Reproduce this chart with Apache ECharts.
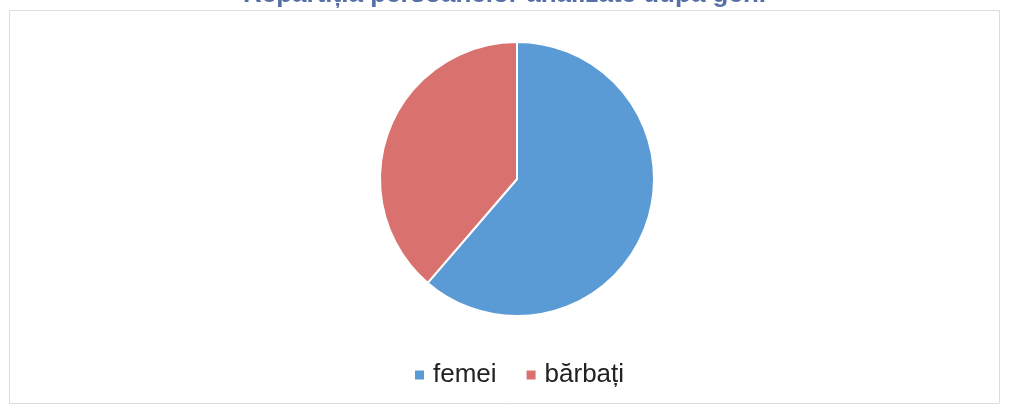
<!DOCTYPE html>
<html><head><meta charset="utf-8">
<script src="https://cdn.jsdelivr.net/npm/echarts@6/dist/echarts.min.js"></script>
<style>html,body{margin:0;padding:0;background:#fff}#c{width:1009px;height:410px}</style>
</head><body><div id="c"></div>
<script>
const titleText = 'Repartiția persoanelor analizate după gen.';
const categories = ['femei', 'bărbați'];
const values = [61.3, 38.7];
const colors = ['#5B9BD5', '#D9716F'];

const chart = echarts.init(document.getElementById('c'), null, {renderer: 'canvas'});
chart.setOption({
  backgroundColor: '#ffffff',
  animation: false,
  title: {
    text: titleText,
    left: 'center',
    top: -23,
    textStyle: {color: '#5670A6', fontSize: 26, fontWeight: 'bold', fontFamily: 'Liberation Sans'}
  },
  graphic: [{
    type: 'rect', shape: {x: 9.5, y: 10.5, width: 990, height: 393},
    style: {fill: 'none', stroke: '#dcdcdc', lineWidth: 1}, z: -1
  }],
  legend: {
    top: 357, left: 408,
    itemWidth: 11, itemHeight: 11, itemGap: 28,
    icon: 'rect',
    textStyle: {fontSize: 26, color: '#222', fontFamily: 'Liberation Sans', padding: [0,0,0,3]},
    data: categories
  },
  series: [{
    type: 'pie',
    center: [517, 179],
    radius: 137,
    startAngle: 90,
    clockwise: true,
    label: {show: false},
    labelLine: {show: false},
    itemStyle: {borderColor: '#ffffff', borderWidth: 2},
    data: categories.map((c, i) => ({name: c, value: values[i], itemStyle: {color: colors[i]}}))
  }]
});
</script></body></html>
